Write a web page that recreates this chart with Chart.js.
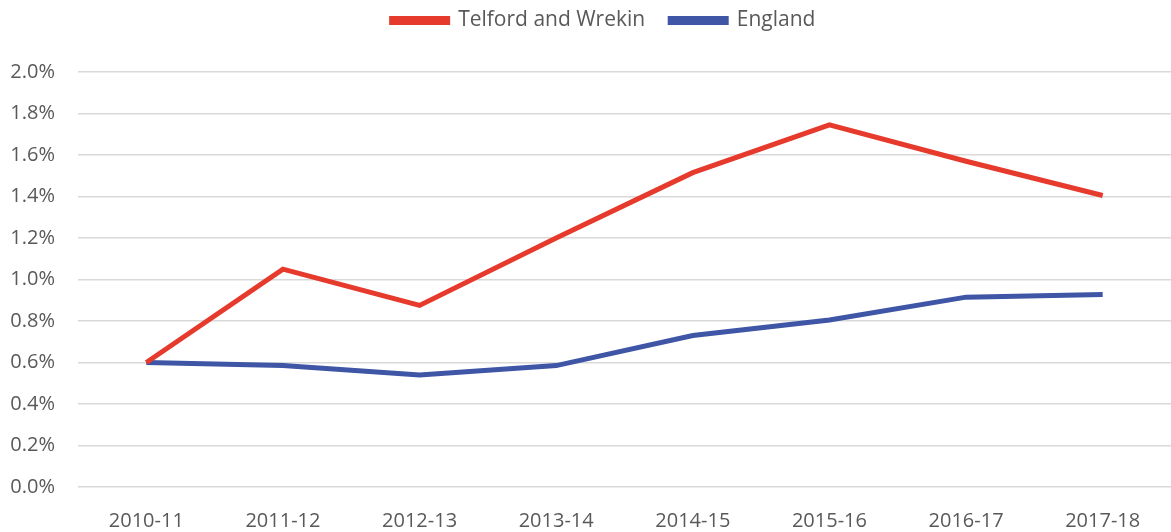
<!DOCTYPE html>
<html>
<head>
<meta charset="utf-8">
<script src="https://cdn.jsdelivr.net/npm/chart.js@4"></script>
<style>
  html, body { margin: 0; padding: 0; background: #fff; }
  #wrap { width: 1171px; height: 532px; }
</style>
</head>
<body>
<div id="wrap"><canvas id="rateChart"></canvas></div>
<script>
const years = ['2010-11', '2011-12', '2012-13', '2013-14', '2014-15', '2015-16', '2016-17', '2017-18'];
const telford = [0.60, 1.05, 0.875, 1.20, 1.515, 1.745, 1.57, 1.405];
const england = [0.60, 0.585, 0.54, 0.585, 0.73, 0.805, 0.915, 0.928];

Chart.defaults.font.family = "'Open Sans', 'Liberation Sans', sans-serif";
Chart.defaults.font.size = 20;
Chart.defaults.color = '#595959';

// push the plot area down below the legend, and nudge the legend right a little
const legendTweak = {
    id: 'legendTweak',
    beforeInit(chart) {
        const legend = chart.legend;
        const fit = legend.fit;
        legend.fit = function () {
            fit.call(this);
            this.height += 31;
        };
        const draw = legend.draw;
        legend.draw = function (...args) {
            const c = this.ctx;
            c.save();
            c.translate(15, 0);
            draw.apply(this, args);
            c.restore();
        };
    }
};

const ctx = document.getElementById('rateChart').getContext('2d');
new Chart(ctx, {
    type: 'line',
    data: {
        labels: years,
        datasets: [
            {
                label: 'Telford and Wrekin',
                data: telford,
                borderColor: '#E63A2C',
                backgroundColor: '#E63A2C',
                borderWidth: 5,
                pointRadius: 0,
                tension: 0
            },
            {
                label: 'England',
                data: england,
                borderColor: '#3F55A5',
                backgroundColor: '#3F55A5',
                borderWidth: 5,
                pointRadius: 0,
                tension: 0
            }
        ]
    },
    options: {
        responsive: true,
        maintainAspectRatio: false,
        animation: false,
        layout: { padding: { left: 6, right: 0, top: -15, bottom: 0 } },
        plugins: {
            legend: {
                position: 'top',
                labels: {
                    boxWidth: 56,
                    boxHeight: 4,
                    padding: 25,
                    font: { size: 21 }
                }
            },
            tooltip: { enabled: false }
        },
        scales: {
            x: {
                offset: true,
                grid: { display: false },
                border: { display: false },
                ticks: { maxRotation: 0, padding: 14 },
                afterFit(scale) { scale.height = 45; }
            },
            y: {
                min: 0,
                max: 2.0,
                ticks: {
                    stepSize: 0.2,
                    padding: 23,
                    callback: v => v.toFixed(1) + '%'
                },
                grid: { color: '#D9D9D9', lineWidth: 1.5, drawTicks: false },
                border: { display: false },
                afterFit(scale) { scale.width = 72; }
            }
        }
    },
    plugins: [legendTweak]
});
</script>
</body>
</html>
